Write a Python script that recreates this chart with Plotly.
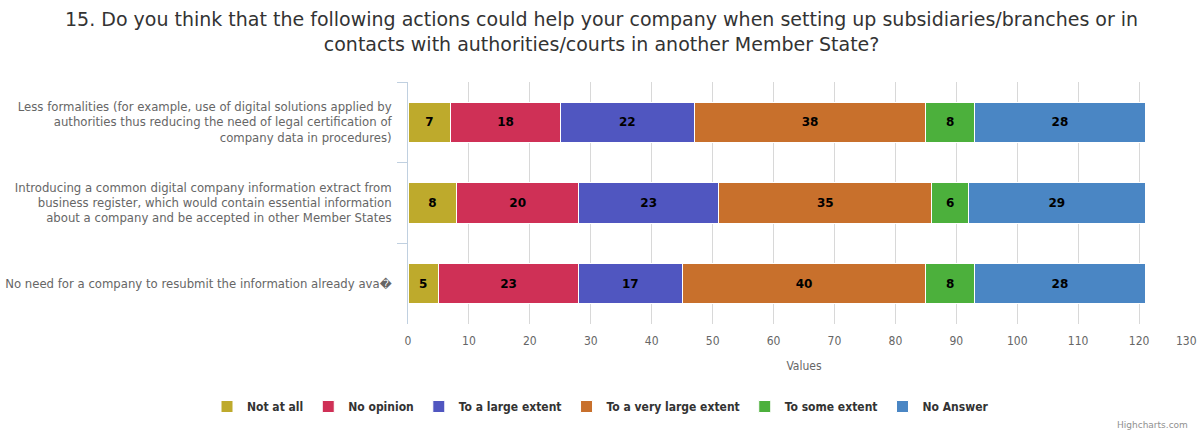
import plotly.graph_objects as go

categories = [
    "Less formalities (for example, use of digital solutions applied by<br>authorities thus reducing the need of legal certification of<br>company data in procedures)",
    "Introducing a common digital company information extract from<br>business register, which would contain essential information<br>about a company and be accepted in other Member States",
    "No need for a company to resubmit the information already ava\ufffd",
]
series_names = ["Not at all", "No opinion", "To a large extent",
                "To a very large extent", "To some extent", "No Answer"]
not_at_all = [7, 8, 5]
no_opinion = [18, 20, 23]
large_extent = [22, 23, 17]
very_large_extent = [38, 35, 40]
some_extent = [8, 6, 8]
no_answer = [28, 29, 28]
series_values = [not_at_all, no_opinion, large_extent, very_large_extent, some_extent, no_answer]
colors = ["#BEAA2C", "#CF3056", "#5056C0", "#C8702C", "#4CB03C", "#4A86C4"]
x_ticks = list(range(0, 131, 10))
x_max = 130

fig = go.Figure()
for name, vals, col in zip(series_names, series_values, colors):
    fig.add_trace(go.Bar(
        y=categories, x=vals, name=name, orientation="h",
        marker=dict(color=col, line=dict(color="white", width=1)),
        text=[str(v) for v in vals], textposition="inside",
        insidetextanchor="middle", textangle=0,
        textfont=dict(family="DejaVu Sans", size=12, color="black", weight="bold"),
        hoverinfo="x+name",
    ))

fig.update_layout(
    width=1201, height=437,
    barmode="stack", bargap=0.5,
    paper_bgcolor="white", plot_bgcolor="white",
    margin=dict(l=408, r=1, t=82, b=113, autoexpand=False),
    font=dict(family="DejaVu Sans", color="#666666"),
    showlegend=True,
    legend=dict(
        orientation="h", x=0.5, xanchor="center", xref="container",
        y=1 - 392 / 437, yref="container", yanchor="top",
        font=dict(family="DejaVu Sans Condensed", size=12, color="#333333", weight="bold"),
        traceorder="normal", itemwidth=30,
    ),
    uniformtext=dict(mode=False),
)
fig.add_annotation(
    text="15. Do you think that the following actions could help your company when setting up subsidiaries/branches or in<br>contacts with authorities/courts in another Member State?",
    xref="paper", yref="paper", x=(601 - 408) / 792, y=1, yshift=82 - 6,
    xanchor="center", yanchor="top", align="center", showarrow=False,
    font=dict(family="DejaVu Sans", size=19, color="#333333"),
)
fig.update_xaxes(
    range=[0, x_max], tickvals=x_ticks[:-1], ticktext=[str(t) for t in x_ticks[:-1]],
    showgrid=True, gridcolor="#D8D8D8", gridwidth=1,
    zeroline=False, showline=False, ticks="", automargin=False,
    ticklabelstandoff=8,
    tickfont=dict(family="DejaVu Sans Condensed", size=12, color="#666666"),
    title=dict(text="Values", font=dict(family="DejaVu Sans Condensed", size=12, color="#666666"), standoff=14),
)
# last tick label kept inside the chart, as Highcharts does
fig.add_annotation(
    text=str(x_ticks[-1]), xref="x", yref="paper", x=x_ticks[-1], y=0,
    xanchor="right", yanchor="top", yshift=-8, xshift=-1, showarrow=False,
    font=dict(family="DejaVu Sans Condensed", size=12, color="#666666"),
)
fig.update_yaxes(
    autorange="reversed", showgrid=False, zeroline=False, automargin=False,
    showline=True, linecolor="#C0D0E0", linewidth=1,
    ticks="outside", tickson="boundaries", ticklen=10, tickcolor="#C0D0E0",
    ticklabelstandoff=13,
    tickfont=dict(family="DejaVu Sans", size=11.7, color="#666666"),
)
fig.add_annotation(
    text="Highcharts.com", xref="paper", yref="paper",
    x=1, y=0, xshift=-10, yshift=-108, xanchor="right", yanchor="bottom",
    showarrow=False, font=dict(family="DejaVu Sans", size=9, color="#909090"),
)
fig.write_html("out.html", config={"displayModeBar": False},
               post_script="document.body.style.margin='0';")
